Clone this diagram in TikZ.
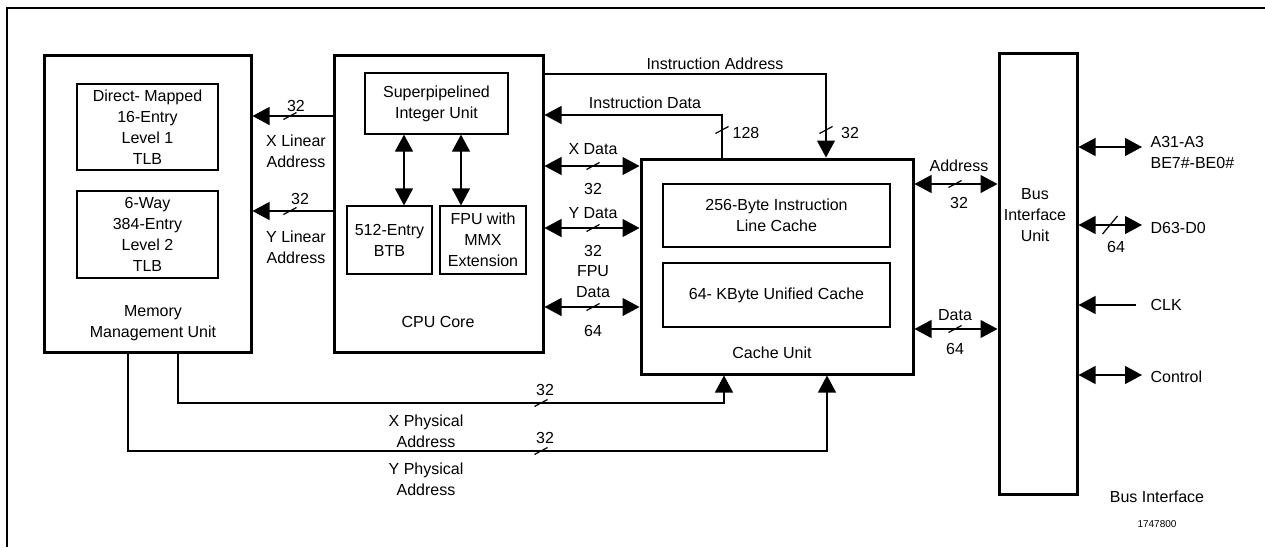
\documentclass[tikz,border=0pt]{standalone}
\usepackage{fontspec}
\setmainfont{Liberation Sans}
\usetikzlibrary{arrows.meta}

\tikzset{
	busslash/.pic = {\draw (-6.5,3.5) -- (6.5,-3.5);},
	wideslash/.pic = {\draw (-7.5,9) -- (7.5,-9);}
}

\begin{document}
\begin{tikzpicture}[
				x = 0.5pt, y = -0.5pt, % one unit per pixel, y downwards
				> = {Triangle[length=8.5pt,width=9pt]}, % arrow head style
				line width = 0.6pt,
				font = \fontsize{8}{10.5}\selectfont,
				unit/.style = {draw, line width=1.5pt, inner sep=0pt},
				block/.style = {draw, align=center, inner sep=0pt},
				lbl/.style = {align=center, inner sep=0pt}
				]

				\useasboundingbox (0,0) rectangle (1265,547);
				\draw[line width=1pt] (1265,8) -- (7,8) -- (7,547);

				% units
				\node (mmu) [unit, minimum width=103.5pt, minimum height=148.5pt] at (147.5,203.5) {};
				\node (cpu) [unit, minimum width=104.5pt, minimum height=148.5pt] at (438.5,203.5) {};
				\node (cache) [unit, minimum width=136pt, minimum height=107.5pt] at (777,266.5) {};
				\node (biu) [unit, minimum width=39pt, minimum height=220.5pt] at (1038,273.5) {};

				\node (tlbone) [block, minimum width=70.5pt, minimum height=43pt] at (147.5,127) {Direct- Mapped\\16-Entry\\Level 1\\TLB};
				\node (tlbtwo) [block, minimum width=70.5pt, minimum height=43.5pt] at (147.5,234.5) {6-Way\\384-Entry\\Level 2\\TLB};
				\node (iu) [block, minimum width=71.5pt, minimum height=30.5pt] at (436.5,103.5) {Superpipelined\\Integer Unit};
				\node (btb) [block, minimum width=42.5pt, minimum height=34pt] at (389.5,240) {512-Entry\\BTB};
				\node (fpu) [block, minimum width=43pt, minimum height=34pt] at (483,240) {FPU with\\MMX\\Extension};
				\node (ilc) [block, minimum width=113.5pt, minimum height=31.5pt] at (776.5,215.5) {256-Byte Instruction\\Line Cache};
				\node (ucache) [block, minimum width=113.5pt, minimum height=32pt] at (776.5,295) {64- KByte Unified Cache};

				\node (mmulbl) [lbl] at (153,323) {Memory\\Management Unit};
				\node (cpulbl) [lbl] at (438,322) {CPU Core};
				\node (cachelbl) [lbl] at (772,353) {Cache Unit};
				\node (biulbl) [lbl] at (1035,215) {Bus\\Interface\\Unit};

				% linear addresses
				\draw[->] (cpu.west |- 0,116) -- (mmu.east |- 0,116);
				\draw[->] (cpu.west |- 0,211) -- (mmu.east |- 0,211);
				\pic at (290,116) {busslash};
				\pic at (290,211) {busslash};
				\node (xlwidth) [lbl] at (296,106) {32};
				\node (xlname) [lbl] at (296,151.5) {X Linear\\Address};
				\node (ylwidth) [lbl] at (300,199) {32};
				\node (ylname) [lbl] at (296,247.5) {Y Linear\\Address};

				% inside the core
				\coordinate (btbport) at ([xshift=7.25pt]btb.north);
				\coordinate (fpuport) at ([xshift=-11pt]fpu.north);
				\draw[<->] (btbport) -- (btbport |- iu.south);
				\draw[<->] (fpuport) -- (fpuport |- iu.south);

				% core to cache
				\draw[->] (cpu.east |- 0,74) -| (cache.north -| 826,0);
				\draw[->] (cache.north -| 722,0) |- (cpu.east |- 0,115);
				\pic at (826,130) {busslash};
				\pic at (722,130) {busslash};
				\node (ianame) [lbl] at (715,64) {Instruction Address};
				\node (idname) [lbl] at (645,103) {Instruction Data};
				\node (idwidth) [lbl] at (746,133) {128};
				\node (iawidth) [lbl] at (850,133) {32};

				\draw[<->] (cpu.east |- 0,166) -- (cache.west |- 0,166);
				\draw[<->] (cpu.east |- 0,228) -- (cache.west |- 0,228);
				\draw[<->] (cpu.east |- 0,307) -- (cache.west |- 0,307);
				\pic at (593,166) {busslash};
				\pic at (593,228) {busslash};
				\pic at (593,307) {busslash};
				\node (xdname) [lbl] at (593,149) {X Data};
				\node (xdwidth) [lbl] at (593,189) {32};
				\node (ydname) [lbl] at (593,213) {Y Data};
				\node (ydwidth) [lbl] at (593,251) {32};
				\node (fdname) [lbl] at (593,282) {FPU\\Data};
				\node (fdwidth) [lbl] at (593,331) {64};

				% physical addresses
				\draw[->] (mmu.south -| 178,0) -- (178,403) -| (cache.south -| 724,0);
				\draw[->] (mmu.south -| 128,0) -- (128,451) -| (cache.south -| 827,0);
				\pic at (541,403) {busslash};
				\pic at (541,451) {busslash};
				\node (xpwidth) [lbl] at (545,390) {32};
				\node (xpname) [lbl] at (426,431) {X Physical\\Address};
				\node (ypwidth) [lbl] at (545,438) {32};
				\node (ypname) [lbl] at (426,479) {Y Physical\\Address};

				% cache to bus unit
				\draw[<->] (cache.east |- 0,184) -- (biu.west |- 0,184);
				\draw[<->] (cache.east |- 0,329) -- (biu.west |- 0,329);
				\pic at (955,184) {busslash};
				\pic at (955,329) {busslash};
				\node (baname) [lbl] at (959,166) {Address};
				\node (bawidth) [lbl] at (959,203) {32};
				\node (bdname) [lbl] at (955,315) {Data};
				\node (bdwidth) [lbl] at (955,349) {64};

				% pins
				\coordinate (apin) at (1142,147);
				\coordinate (dpin) at (1142,225);
				\coordinate (clkpin) at (1136,305);
				\coordinate (ctlpin) at (1142,375);
				\draw[<->] (biu.east |- apin) -- (apin);
				\draw[<->] (biu.east |- dpin) -- (dpin);
				\draw[->] (clkpin) -- (biu.east |- clkpin);
				\draw[<->] (biu.east |- ctlpin) -- (ctlpin);
				\pic at (1110,225) {wideslash};
				\node (dwidth) [lbl] at (1116,247) {64};
				\node (aname) [lbl, anchor=west, align=left] at (1150,152) {A31-A3\\BE7\#-BE0\#};
				\node (dname) [lbl, anchor=west] at (1150,228) {D63-D0};
				\node (clkname) [lbl, anchor=west] at (1150,305) {CLK};
				\node (ctlname) [lbl, anchor=west] at (1150,377) {Control};

				\node (title) [lbl] at (1157,497) {Bus Interface};
				\node (figno) [lbl, font=\fontsize{5}{6}\selectfont] at (1157,524) {1747800};

			\end{tikzpicture}
\end{document}
